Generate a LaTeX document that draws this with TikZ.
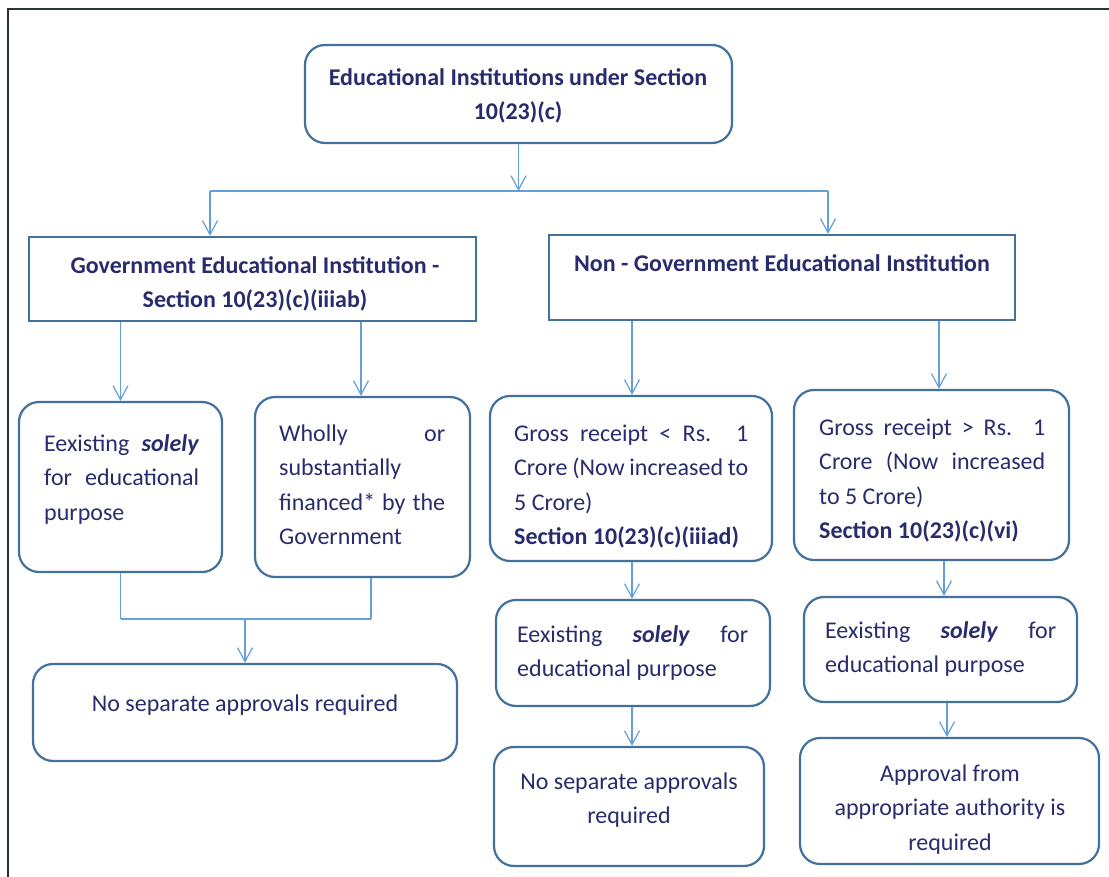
\documentclass[tikz,border=0pt]{standalone}
\usepackage{fontspec}
\setmainfont{Carlito}
\usetikzlibrary{arrows.meta}
\definecolor{navy}{RGB}{40,44,108}
\definecolor{bord}{RGB}{65,113,156}
\definecolor{connc}{RGB}{100,160,215}
\definecolor{framec}{RGB}{40,52,56}
\newcommand{\fl}{\rule{0pt}{20pt}}
\newcommand{\sol}{\textbf{\textit{solely}}}
\begin{document}
\begin{tikzpicture}[x=1pt,y=-1pt,font=\fontsize{24}{34.5}\selectfont,
  box/.style={draw=bord, line width=2.2pt, rounded corners=20pt, inner sep=0pt},
  sqbox/.style={draw=bord, line width=2.2pt, inner sep=0pt},
  txt/.style={text=navy, inner sep=0pt, anchor=north west, align=left},
  ctxt/.style={text=navy, inner sep=0pt, anchor=north, align=center},
  conn/.style={draw=connc, line width=1.2pt},
  arr/.style={conn, -{Straight Barb[length=14pt,width=15pt]}}]
\fill[white] (0,0) rectangle (1109,877);
\useasboundingbox (0,0) rectangle (1109,877);
\draw[line width=1.6pt, framec] (8,877) -- (8,9) -- (1109,9);

% boxes
\node[box, minimum width=427pt, minimum height=98pt] (top) at (518.5,94) {};
\node[sqbox, minimum width=447pt, minimum height=84pt] (gov) at (252.5,279) {};
\node[sqbox, minimum width=466pt, minimum height=85pt] (ngov) at (782,277.5) {};
\node[box, minimum width=203pt, minimum height=170pt] (l1) at (120.5,487) {};
\node[box, minimum width=215pt, minimum height=180pt] (l2) at (362.5,487) {};
\node[box, minimum width=282pt, minimum height=165pt] (m1) at (631,478.5) {};
\node[box, minimum width=275pt, minimum height=170pt] (r1) at (931.5,475) {};
\node[box, minimum width=274pt, minimum height=106pt] (m2) at (633,653) {};
\node[box, minimum width=273pt, minimum height=105pt] (r2) at (940.5,649.5) {};
\node[box, minimum width=424pt, minimum height=97pt] (l3) at (245,712.5) {};
\node[box, minimum width=270pt, minimum height=119pt] (m3) at (629,806.5) {};
\node[box, minimum width=299pt, minimum height=126pt] (r3) at (949.5,801) {};

% texts
\node[ctxt] (toptx) at (518,85-20) {\fl\textbf{Educational Institutions under Section}\\\textbf{10(23)(c)}};
\node[ctxt] (govtx) at (255,273-20) {\fl\textbf{Government Educational Institution -}\\\textbf{Section 10(23)(c)(iiiab)}};
\node[ctxt] (ngovtx) at (782,271-20) {\fl\textbf{Non - Government Educational Institution}};
\node[txt] (l1tx) at (44,451-20) {\fl\makebox[155pt][s]{Eexisting \sol}\\\makebox[155pt][s]{for educational}\\purpose};
\node[txt] (l2tx) at (279,441-20) {\fl\makebox[166pt][s]{Wholly\hfill or}\\substantially\\\makebox[166pt][s]{financed* by the}\\Government};
\node[txt] (m1tx) at (514,441-20) {\fl\makebox[234pt][s]{Gross receipt < Rs. 1}\\\makebox[234pt][s]{Crore (Now increased to}\\5 Crore)\\\textbf{Section 10(23)(c)(iiiad)}};
\node[txt] (r1tx) at (819,435-20) {\fl\makebox[226pt][s]{Gross receipt > Rs. 1}\\\makebox[226pt][s]{Crore (Now increased}\\to 5 Crore)\\\textbf{Section 10(23)(c)(vi)}};
\node[txt] (m2tx) at (517,642-20) {\fl\makebox[231pt][s]{Eexisting \sol{} for}\\educational purpose};
\node[txt] (r2tx) at (825,638-20) {\fl\makebox[231pt][s]{Eexisting \sol{} for}\\educational purpose};
\node[ctxt] (l3tx) at (245,711-20) {\fl No separate approvals required};
\node[ctxt] (m3tx) at (629,789-20) {\fl No separate approvals\\required};
\node[ctxt] (r3tx) at (950,781-20) {\fl Approval from\\appropriate authority is\\required};

% connectors
\coordinate (hL) at (210,191);
\coordinate (hM) at (518.5,191);
\coordinate (hR) at (828,191);
\draw[arr] (top.south) -- (hM);
\draw[conn] (hL) -- (hR);
\draw[arr] (hL) -- (hL |- gov.north);
\draw[arr] (hR) -- (hR |- ngov.north);

\coordinate (g1) at (120.5,0);
\coordinate (g2) at (361,0);
\draw[arr] (g1 |- gov.south) -- (g1 |- l1.north);
\draw[arr] (g2 |- gov.south) -- (g2 |- l2.north);

\coordinate (jL) at (120.5,619);
\coordinate (jR) at (371,619);
\coordinate (jM) at (245,619);
\draw[conn] (l1.south) -- (jL);
\draw[conn] (jR |- l2.south) -- (jR);
\draw[conn] (jL) -- (jR);
\draw[arr] (jM) -- (l3.north);

\coordinate (n1) at (632,0);
\coordinate (n2) at (939,0);
\draw[arr] (n1 |- ngov.south) -- (n1 |- m1.north);
\draw[arr] (n2 |- ngov.south) -- (n2 |- r1.north);

\coordinate (p1) at (632,0);
\coordinate (p2) at (944,0);
\draw[arr] (p1 |- m1.south) -- (p1 |- m2.north);
\draw[arr] (p2 |- r1.south) -- (p2 |- r2.north);

\coordinate (q1) at (632,0);
\coordinate (q2) at (947,0);
\draw[arr] (q1 |- m2.south) -- (q1 |- m3.north);
\draw[arr] (q2 |- r2.south) -- (q2 |- r3.north);
\end{tikzpicture}
\end{document}
